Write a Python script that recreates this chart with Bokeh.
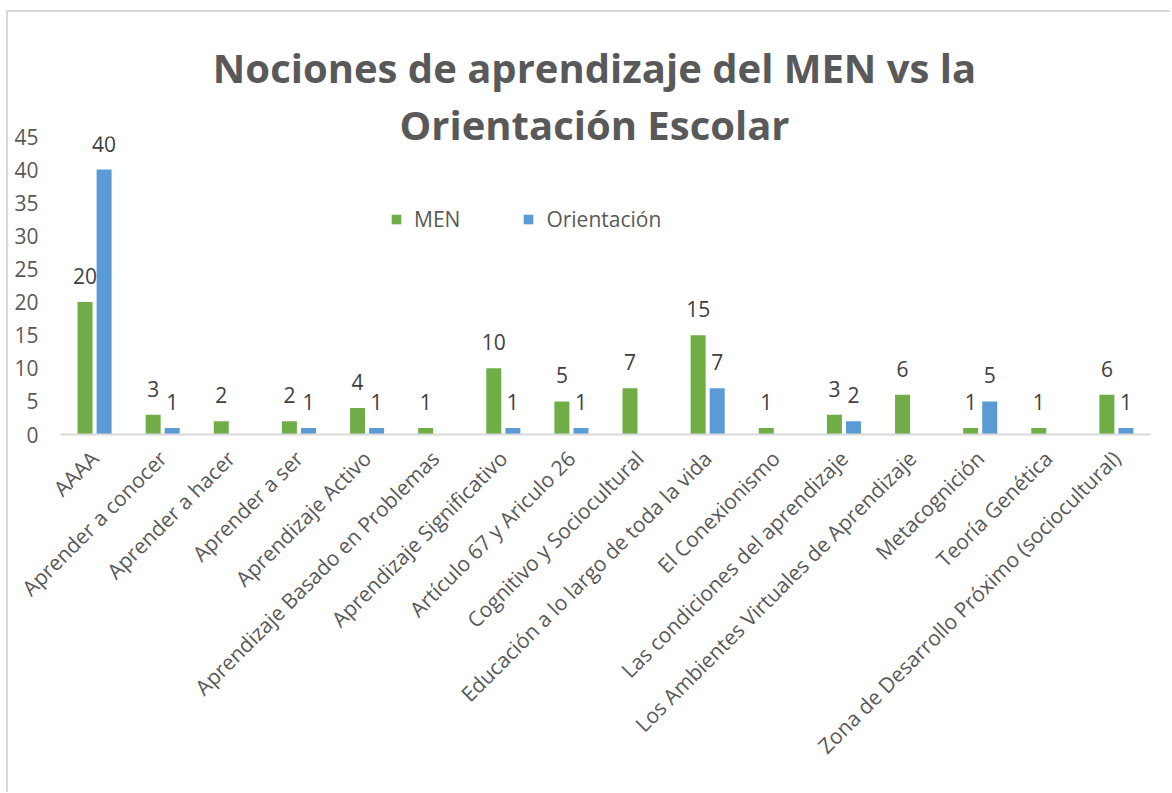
import math
from bokeh.plotting import figure
from bokeh.models import (ColumnDataSource, FactorRange, Range1d, Title, Legend,
                          LegendItem, FixedTicker)
from bokeh.transform import dodge
from bokeh.core.properties import value
from bokeh.embed import file_html
from bokeh.resources import INLINE

categories = [
    "AAAA", "Aprender a conocer", "Aprender a hacer", "Aprender a ser",
    "Aprendizaje Activo", "Aprendizaje Basado en Problemas",
    "Aprendizaje Significativo", "Artículo 67 y Ariculo 26",
    "Cognitivo y Sociocultural", "Educación a lo largo de toda la vida",
    "El Conexionismo", "Las condiciones del aprendizaje",
    "Los Ambientes Virtuales de Aprendizaje", "Metacognición",
    "Teoría Genética", "Zona de Desarrollo Próximo (sociocultural)",
]
men = [20, 3, 2, 2, 4, 1, 10, 5, 7, 15, 1, 3, 6, 1, 1, 6]
orientacion = [40, 1, 0, 1, 1, 0, 1, 1, 0, 7, 0, 2, 0, 5, 0, 1]
y_ticks = [0, 5, 10, 15, 20, 25, 30, 35, 40, 45]
title_lines = ["Nociones de aprendizaje del MEN vs la", "Orientación Escolar"]

GREEN = "#70AD47"
BLUE = "#5B9BD5"
GREY = "#595959"
FONT = "Open Sans"
FS = "21px"

src = ColumnDataSource(dict(cat=categories, men=men, ori=orientacion))
men_lbl = ColumnDataSource(dict(
    cat=[c for c, v in zip(categories, men) if v],
    v=[v for v in men if v],
    t=[str(v) for v in men if v]))
ori_lbl = ColumnDataSource(dict(
    cat=[c for c, v in zip(categories, orientacion) if v],
    v=[v for v in orientacion if v],
    t=[str(v) for v in orientacion if v]))

p = figure(width=1164, height=782, output_backend="svg", toolbar_location=None,
           x_range=FactorRange(*categories, range_padding=0),
           y_range=Range1d(0, 45),
           min_border_left=52, min_border_right=22, min_border_top=124,
           min_border_bottom=360)
p.styles = {"margin-left": "6px", "margin-top": "10px",
            "border-left": "2px solid #d9d9d9", "border-top": "2px solid #d9d9d9"}

off = 0.14
bw = 0.22
r_men = p.vbar(x=dodge("cat", -off, range=p.x_range), top="men", width=bw,
               source=src, fill_color=GREEN, line_color=None)
r_ori = p.vbar(x=dodge("cat", off, range=p.x_range), top="ori", width=bw,
               source=src, fill_color=BLUE, line_color=None)

for s, o in ((men_lbl, -off), (ori_lbl, off)):
    p.text(x=dodge("cat", o, range=p.x_range), y="v", text="t", source=s,
           text_align="center", text_baseline="bottom", y_offset=-18,
           text_font=value(FONT), text_font_size=FS, text_color="#404040")

p.xgrid.visible = False
p.ygrid.visible = False
p.outline_line_color = None
p.background_fill_color = "white"
p.border_fill_color = "white"

ya = p.yaxis[0]
ya.ticker = FixedTicker(ticks=y_ticks)
ya.axis_line_color = None
ya.major_tick_line_color = None
ya.minor_tick_line_color = None
ya.major_tick_out = 0
ya.major_label_standoff = 22
ya.major_label_text_font = FONT
ya.major_label_text_font_size = FS
ya.major_label_text_color = GREY

xa = p.xaxis[0]
xa.axis_line_color = "#d9d9d9"
xa.axis_line_width = 2
xa.major_tick_line_color = None
xa.minor_tick_line_color = None
xa.major_tick_out = 0
xa.major_label_standoff = 20
xa.major_label_orientation = math.pi / 4
xa.major_label_text_font = FONT
xa.major_label_text_font_size = FS
xa.major_label_text_color = GREY

legend = Legend(items=[LegendItem(label="MEN", renderers=[r_men]),
                       LegendItem(label="Orientación", renderers=[r_ori])],
                orientation="horizontal", location=(330, 201),
                glyph_width=12, glyph_height=12, label_standoff=12, spacing=62,
                padding=0, margin=0, border_line_color=None,
                background_fill_alpha=0,
                label_text_font=FONT, label_text_font_size=FS,
                label_text_color=GREY)
p.add_layout(legend, "center")

t2 = Title(text=title_lines[1], align="center", text_font=FONT,
           text_font_size="40px", text_font_style="bold", text_color=GREY,
           standoff=-30, padding=dict(left=0, right=22, top=4, bottom=0))
t1 = Title(text=title_lines[0], align="center", text_font=FONT,
           text_font_size="40px", text_font_style="bold", text_color=GREY,
           standoff=22, padding=dict(left=0, right=22, top=2, bottom=0))
p.add_layout(t2, "above")
p.add_layout(t1, "above")

open("out.html", "w").write(file_html(p, INLINE))
